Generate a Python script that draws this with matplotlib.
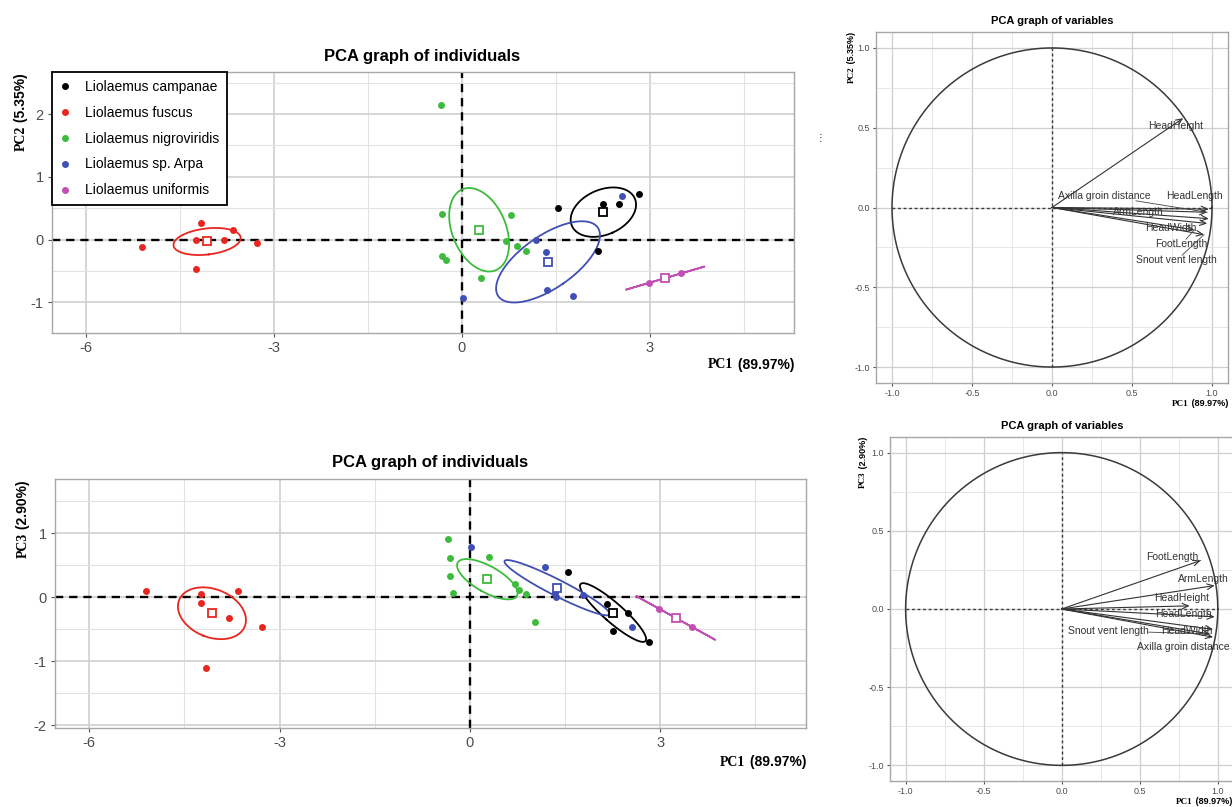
import matplotlib
matplotlib.use("Agg")
import matplotlib.pyplot as plt
import numpy as np
from matplotlib.lines import Line2D
from matplotlib.ticker import FixedLocator

plt.rcParams['font.family'] = ['Liberation Sans', 'DejaVu Sans']

# ---------------- data ----------------
species = ["Liolaemus campanae", "Liolaemus fuscus", "Liolaemus nigroviridis",
           "Liolaemus sp. Arpa", "Liolaemus uniformis"]
colors = ["#000000", "#e8261f", "#3dbb3d", "#3f4fb3", "#c24fb5"]

campanae_pc1 = [1.54, 2.17, 2.25, 2.50, 2.83]
campanae_pc2 = [0.50, -0.19, 0.57, 0.57, 0.73]
campanae_pc3 = [0.39, -0.10, -0.53, -0.25, -0.69]

fuscus_pc1 = [-5.10, -4.16, -4.24, -4.24, -3.80, -3.65, -3.27]
fuscus_pc2 = [-0.12, 0.27, 0.00, -0.47, 0.00, 0.15, -0.05]
fuscus_pc3 = [0.10, -1.11, 0.05, -0.09, -0.32, 0.10, -0.46]

nigro_pc1 = [-0.34, -0.32, -0.31, -0.26, 0.31, 0.71, 0.78, 0.88, 1.03]
nigro_pc2 = [2.15, 0.40, -0.27, -0.32, -0.62, -0.03, 0.39, -0.11, -0.19]
nigro_pc3 = [0.91, 0.61, 0.34, 0.07, 0.63, 0.21, 0.11, 0.06, -0.38]

arpa_pc1 = [0.02, 1.19, 1.34, 1.36, 1.78, 2.56]
arpa_pc2 = [-0.94, 0.00, -0.20, -0.80, -0.90, 0.70]
arpa_pc3 = [0.79, 0.48, 0.07, 0.00, 0.03, -0.46]

uniformis_pc1 = [2.99, 3.50]
uniformis_pc2 = [-0.69, -0.54]
uniformis_pc3 = [-0.18, -0.46]

group_pc1 = [campanae_pc1, fuscus_pc1, nigro_pc1, arpa_pc1, uniformis_pc1]
group_pc2 = [campanae_pc2, fuscus_pc2, nigro_pc2, arpa_pc2, uniformis_pc2]
group_pc3 = [campanae_pc3, fuscus_pc3, nigro_pc3, arpa_pc3, uniformis_pc3]

var_names = ["Snout vent length", "HeadLength", "HeadWidth", "HeadHeight",
             "ArmLength", "FootLength", "Axilla groin distance"]
load_pc1 = [0.95, 0.98, 0.97, 0.82, 0.98, 0.89, 0.97]
load_pc2 = [-0.17, -0.01, -0.10, 0.56, -0.07, -0.14, -0.03]
load_pc3 = [-0.16, -0.05, -0.13, 0.02, 0.15, 0.31, -0.18]

CHI2_2DF_95 = 5.991  # 95% quantile of chi-square with 2 df

# ---------------- layout (pixels) ----------------
W, H = 1232, 807
fig = plt.figure(figsize=(W / 100, H / 100), dpi=100)
bg = fig.add_axes([0, 0, 1, 1], zorder=-5)
bg.set_xlim(0, W)
bg.set_ylim(H, 0)
bg.axis("off")


def px_axes(l, t, r, b):
    return fig.add_axes([l / W, 1 - b / H, (r - l) / W, (b - t) / H])


# label placement for variable plots (layout)
lab12 = {"HeadHeight": (0.77, 0.51), "HeadLength": (0.89, 0.073),
         "Axilla groin distance": (0.33, 0.073), "ArmLength": (0.54, -0.03),
         "HeadWidth": (0.74, -0.13), "FootLength": (0.81, -0.23),
         "Snout vent length": (0.78, -0.33)}
seg12 = ["Axilla groin distance", "FootLength", "Snout vent length"]
lab13 = {"FootLength": (0.71, 0.33), "ArmLength": (0.91, 0.19),
         "HeadHeight": (0.77, 0.07), "HeadLength": (0.78, -0.035),
         "HeadWidth": (0.80, -0.14), "Snout vent length": (0.30, -0.14),
         "Axilla groin distance": (0.78, -0.245)}
seg13 = ["FootLength", "Snout vent length"]

GRID_MAJ = "#cfcfcf"
GRID_MIN = "#e2e2e2"
SPINE = "#a8a8a8"
TICKC = "#555555"


def style_axes(ax, fs, lw_maj=1.0, lw_min=0.6):
    ax.set_facecolor("white")
    for s in ax.spines.values():
        s.set_color(SPINE)
        s.set_linewidth(1.0)
    ax.grid(True, which="major", color=GRID_MAJ, lw=lw_maj, zorder=0)
    ax.grid(True, which="minor", color=GRID_MIN, lw=lw_min, zorder=0)
    ax.set_axisbelow(True)
    ax.tick_params(which="major", colors=TICKC, labelcolor="#4d4d4d",
                   labelsize=fs, length=3, width=0.8, pad=3)
    ax.tick_params(which="minor", length=0)


def conf_ellipse(x, y, n=240):
    x = np.asarray(x, float)
    y = np.asarray(y, float)
    cov = np.cov(x, y) / len(x)
    vals, vecs = np.linalg.eigh(cov)
    vals = np.maximum(vals, 0)
    t = np.linspace(0, 2 * np.pi, n)
    circ = np.vstack([np.cos(t), np.sin(t)])
    pts = vecs @ (np.sqrt(vals * CHI2_2DF_95)[:, None] * circ)
    return x.mean() + pts[0], y.mean() + pts[1]


def two_part_label(x, y, first, rest, fs, rotation=0):
    if rotation == 0:
        t2 = bg.text(x, y, rest, ha="right", va="center", fontsize=fs,
                     fontweight="bold", color="black")
        bg.annotate(first, xy=(0, 0.5), xycoords=t2, ha="right", va="center",
                    fontsize=fs, fontweight="bold", family="Liberation Serif",
                    color="black")
    else:
        t2 = bg.text(x, y, rest, ha="center", va="top", fontsize=fs,
                     fontweight="bold", rotation=90, color="black")
        bg.annotate(first, xy=(0.5, 0), xycoords=t2, ha="center", va="top",
                    fontsize=fs, fontweight="bold", rotation=90,
                    family="Liberation Serif", color="black")


def individuals(ax, ycomps, ylim, ymaj, ymin_):
    ax.set_xlim(-6.54, 5.30)
    ax.set_ylim(*ylim)
    ax.set_xticks([-6, -3, 0, 3])
    ax.xaxis.set_minor_locator(FixedLocator([-4.5, -1.5, 1.5, 4.5]))
    ax.set_yticks(ymaj)
    ax.yaxis.set_minor_locator(FixedLocator(ymin_))
    ax.set_xticklabels(["-6", "-3", "0", "3"])
    ax.set_yticklabels([str(v) for v in ymaj])
    style_axes(ax, 10.5, 1.2, 0.8)
    ax.axhline(0, color="black", ls=(0, (3.5, 2.5)), lw=1.7, zorder=2)
    ax.axvline(0, color="black", ls=(0, (3.5, 2.5)), lw=1.7, zorder=2)
    for xs, ys, c in zip(group_pc1, ycomps, colors):
        ex, ey = conf_ellipse(xs, ys)
        ax.plot(ex, ey, color=c, lw=1.3, zorder=3)
        ax.plot(xs, ys, "o", color=c, ms=5, mec="none", zorder=4)
        ax.plot(np.mean(xs), np.mean(ys), "s", mfc="white", mec=c, mew=1.3,
                ms=6, zorder=5)


def variables(ax, comp, labs, segs):
    ax.set_xlim(-1.1, 1.1)
    ax.set_ylim(-1.1, 1.1)
    ticks = [-1.0, -0.5, 0.0, 0.5, 1.0]
    ax.set_xticks(ticks)
    ax.set_yticks(ticks)
    ax.set_xticklabels(["-1.0", "-0.5", "0.0", "0.5", "1.0"])
    ax.set_yticklabels(["-1.0", "-0.5", "0.0", "0.5", "1.0"])
    mins = [-0.75, -0.25, 0.25, 0.75]
    ax.xaxis.set_minor_locator(FixedLocator(mins))
    ax.yaxis.set_minor_locator(FixedLocator(mins))
    style_axes(ax, 6.5, 0.9, 0.6)
    ax.tick_params(which="major", length=2.5, pad=2)
    th = np.linspace(0, 2 * np.pi, 400)
    ax.plot(np.cos(th), np.sin(th), color="#3a3a3a", lw=1.1, zorder=3)
    ax.plot([-1, 1], [0, 0], color="#3a3a3a", ls=(0, (2, 2)), lw=1.0, zorder=3)
    ax.plot([0, 0], [-1, 1], color="#3a3a3a", ls=(0, (2, 2)), lw=1.0, zorder=3)
    for name, lx, ly in zip(var_names, load_pc1, comp):
        ax.annotate("", xy=(lx, ly), xytext=(0, 0),
                    arrowprops=dict(arrowstyle="->,head_length=0.45,head_width=0.2",
                                    color="#333333", lw=0.8, shrinkA=0, shrinkB=0),
                    zorder=4)
    texts = {}
    for name in var_names:
        tx, ty = labs[name]
        texts[name] = ax.text(tx, ty, name, ha="center", va="center",
                              fontsize=7.5, color="#333333", zorder=5)
    fig.canvas.draw()
    inv = ax.transData.inverted()
    for name, lx, ly in zip(var_names, load_pc1, comp):
        if name not in segs:
            continue
        bb = texts[name].get_window_extent()
        cx, cy = (bb.x0 + bb.x1) / 2, (bb.y0 + bb.y1) / 2
        tip = ax.transData.transform((lx, ly))
        dx, dy = tip[0] - cx, tip[1] - cy
        sx = (bb.width / 2) / abs(dx) if dx != 0 else np.inf
        sy = (bb.height / 2) / abs(dy) if dy != 0 else np.inf
        s = min(sx, sy)
        start = inv.transform((cx + s * dx, cy + s * dy))
        ax.plot([start[0], lx], [start[1], ly], color="#444444", lw=0.6,
                zorder=4)


# ---- top-left: individuals PC1/PC2 ----
ax1 = px_axes(52, 72, 794, 333)
individuals(ax1, group_pc2, (-1.49, 2.67), [-1, 0, 1, 2], [-0.5, 0.5, 1.5, 2.5])
handles = [Line2D([], [], marker="o", ls="none", color=c, mec="none", ms=5)
           for c in colors]
leg = ax1.legend(handles, species, loc="upper left", bbox_to_anchor=(0, 1),
                 borderaxespad=0, fontsize=10, frameon=True, fancybox=False,
                 edgecolor="black", framealpha=1, labelspacing=0.86,
                 handlelength=0.8, handletextpad=1.0, borderpad=0.55)
leg.get_frame().set_linewidth(1.3)
bg.text(422, 57, "PCA graph of individuals", ha="center", va="center",
        fontsize=12, fontweight="bold")
two_part_label(794, 365, "PC1", " (89.97%)", 10)
two_part_label(21, 73, "PC2", " (5.35%)", 10, rotation=90)

# ---- bottom-left: individuals PC1/PC3 ----
ax2 = px_axes(55, 479, 806, 728)
individuals(ax2, group_pc3, (-2.04, 1.85), [-2, -1, 0, 1], [-1.5, -0.5, 0.5, 1.5])
bg.text(430, 462, "PCA graph of individuals", ha="center", va="center",
        fontsize=12, fontweight="bold")
two_part_label(806, 762, "PC1", " (89.97%)", 10)
two_part_label(23, 480, "PC3", " (2.90%)", 10, rotation=90)

# ---- top-right: variables PC1/PC2 ----
ax3 = px_axes(876, 32, 1228, 383)
variables(ax3, load_pc2, lab12, seg12)
bg.text(1052, 21, "PCA graph of variables", ha="center", va="center",
        fontsize=8, fontweight="bold")
two_part_label(1228, 404, "PC1", " (89.97%)", 6.5)
two_part_label(852, 32, "PC2", " (5.35%)", 6.5, rotation=90)
bg.text(820, 138, "\u22ee", ha="center", va="center", fontsize=7,
        family="DejaVu Sans", color="#333333")

# ---- bottom-right: variables PC1/PC3 ----
ax4 = px_axes(890, 437, 1233.4, 781)
variables(ax4, load_pc3, lab13, seg13)
bg.text(1062, 426, "PCA graph of variables", ha="center", va="center",
        fontsize=8, fontweight="bold")
two_part_label(1232, 802, "PC1", " (89.97%)", 6.5)
two_part_label(863, 437, "PC3", " (2.90%)", 6.5, rotation=90)

fig.savefig("out.png", dpi=100)
